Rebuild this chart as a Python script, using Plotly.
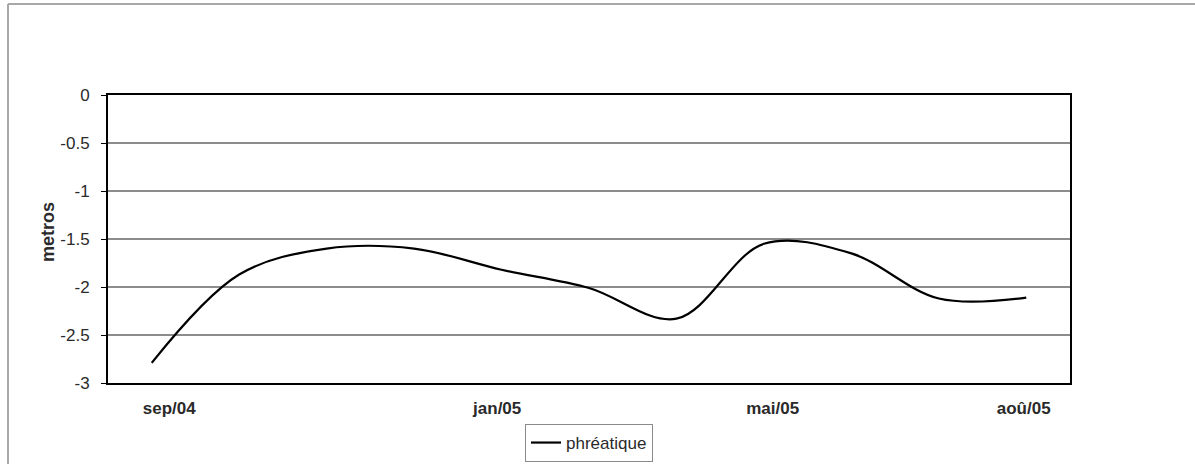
import plotly.graph_objects as go

# data: measurement index (11 successive readings) and water-table depth (m)
point_index = [0, 1, 2, 3, 4, 5, 6, 7, 8, 9, 10]
phreatique = [-2.79, -1.87, -1.60, -1.60, -1.82, -2.01, -2.33, -1.55, -1.65, -2.12, -2.11]

x_tick_pos = [0.2, 3.95, 7.1, 9.97]
x_tick_labels = ["sep/04", "jan/05", "mai/05", "aoû/05"]
y_ticks = [0, -0.5, -1, -1.5, -2, -2.5, -3]
y_tick_labels = ["0", "-0.5", "-1", "-1.5", "-2", "-2.5", "-3"]

FONT = "Liberation Sans, Arial, sans-serif"
TXT = "#2a2a2a"

# plot-area geometry in page pixels
W, H = 1195, 464
L, R, T, B = 108, 125, 95, 81
PW, PH = W - L - R, H - T - B

fig = go.Figure()
fig.add_trace(go.Scatter(
    x=point_index, y=phreatique, mode="lines", name="phréatique",
    line=dict(color="black", width=2.2, shape="spline", smoothing=1.0),
))

fig.update_layout(
    width=W, height=H,
    margin=dict(l=L, r=R, t=T, b=B, autoexpand=False),
    paper_bgcolor="white", plot_bgcolor="white",
    font=dict(family=FONT, size=17, color=TXT),
    showlegend=True,
    legend=dict(x=0.5, xanchor="center", y=(0 - 41) / PH, yanchor="top",
                bordercolor="#8a8a8a", borderwidth=1, bgcolor="white",
                font=dict(size=17, color=TXT, family=FONT),
                itemwidth=30, tracegroupgap=0),
    xaxis=dict(range=[-0.5, 10.5], tickmode="array", tickvals=x_tick_pos,
               ticktext=x_tick_labels, showgrid=False, zeroline=False,
               showline=True, linecolor="black", linewidth=2, mirror=True,
               ticks="", ticklabelstandoff=9, automargin=False,
               tickfont=dict(size=17, color=TXT, family=FONT, weight="bold")),
    yaxis=dict(range=[-3, 0], tickmode="array", tickvals=y_ticks,
               ticktext=y_tick_labels, showgrid=True, gridcolor="#8c8c8c", gridwidth=1.5,
               zeroline=False, showline=True, linecolor="black", linewidth=2, mirror=True,
               ticks="outside", ticklen=5, tickcolor="black", ticklabelstandoff=8,
               automargin=False,
               tickfont=dict(size=17, color=TXT, family=FONT)),
)

fig.add_annotation(text="<b>metros</b>", xref="paper", yref="paper",
                   x=(48 - L) / PW, y=(H - B - 232) / PH, textangle=-90,
                   xanchor="center", yanchor="middle",
                   showarrow=False, font=dict(size=18, color=TXT, family=FONT))

# outer chart border (top and left visible)
fig.add_shape(type="line", xref="paper", yref="paper",
              x0=(8 - L) / PW, x1=(W - L) / PW, y0=(H - B - 4) / PH, y1=(H - B - 4) / PH,
              line=dict(color="#a8a8a8", width=2))
fig.add_shape(type="line", xref="paper", yref="paper",
              x0=(8 - L) / PW, x1=(8 - L) / PW, y0=(H - B - 4) / PH, y1=(H - B - H - 5) / PH,
              line=dict(color="#a8a8a8", width=2))

fig.write_html("out.html", config={"displayModeBar": False},
               post_script="document.body.style.margin='0';document.documentElement.style.overflow='hidden';")
